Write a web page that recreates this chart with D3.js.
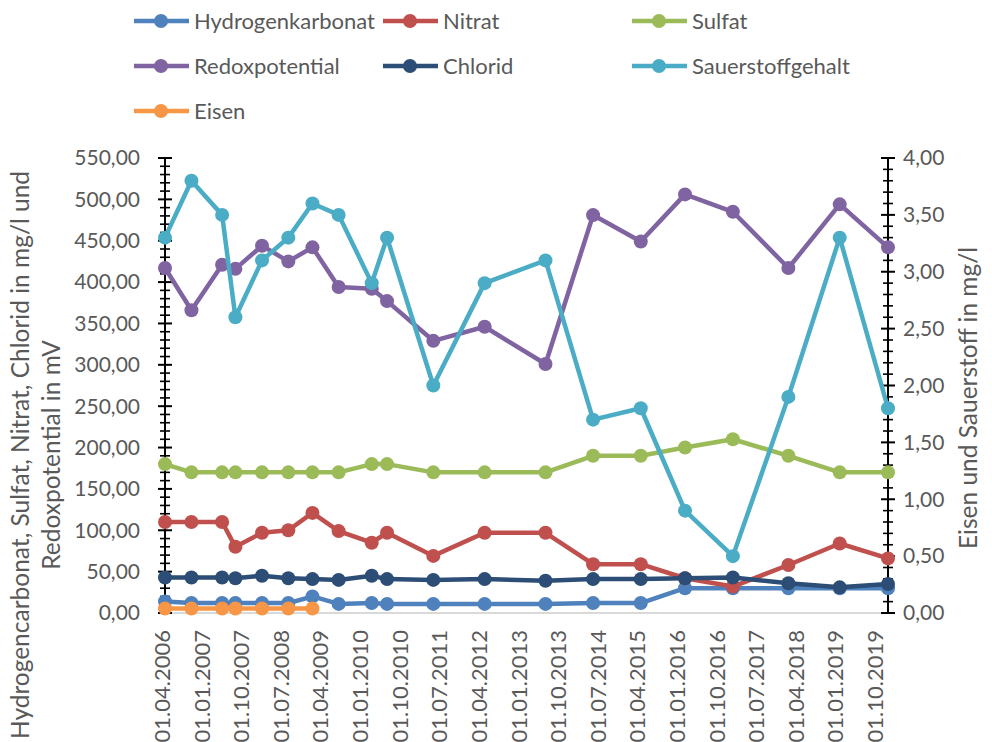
<!DOCTYPE html>
<html><head><meta charset="utf-8">
<script src="https://cdn.jsdelivr.net/npm/d3@7"></script>
<style>body{margin:0;background:#fff}svg{display:block}text{font-family:Lato,"Open Sans",sans-serif;fill:#595959}</style>
</head><body>
<svg id="c" width="992" height="742"></svg>
<script>
const dates = ["2006-04-01","2006-10-01","2007-05-01","2007-08-01","2008-02-01","2008-08-01","2009-01-15","2009-07-15","2010-03-01","2010-06-15","2011-05-01","2012-04-20","2013-06-15","2014-05-10","2015-04-05","2016-02-05","2017-01-01","2018-01-20","2019-01-10","2019-12-10"];
const hydrogenkarbonat = [14,12,12,12,12,12,20,11,12,11,11,11,11,12,12,30,30,30,30,30];
const nitrat = [110,110,110,80,97,100,121,99,85,97,69,97,97,59,59,42,32,58,84,66];
const sulfat = [180,170,170,170,170,170,170,170,180,180,170,170,170,190,190,200,210,190,170,170];
const redoxpotential = [417,366,421,416,444,425,442,394,392,377,329,346,301,481,449,506,485,417,494,442];
const chlorid = [43,43,43,42,45,42,41,40,45,41,40,41,39,41,41,42,43,36,31,35];
const sauerstoffgehalt = [3.3,3.8,3.5,2.6,3.1,3.3,3.6,3.5,2.9,3.3,2.0,2.9,3.1,1.7,1.8,0.9,0.5,1.9,3.3,1.8];
const eisen = [0.04,0.04,0.04,0.04,0.04,0.04,0.04,null,null,null,null,null,null,null,null,null,null,null,null,null];
const xTickLabels = ["01.04.2006","01.01.2007","01.10.2007","01.07.2008","01.04.2009","01.01.2010","01.10.2010","01.07.2011","01.04.2012","01.01.2013","01.10.2013","01.07.2014","01.04.2015","01.01.2016","01.10.2016","01.07.2017","01.04.2018","01.01.2019","01.10.2019"];
const leftTicks = [0,50,100,150,200,250,300,350,400,450,500,550];
const rightTicks = [0,0.5,1,1.5,2,2.5,3,3.5,4];

const series = [
  {name:"Hydrogenkarbonat", values:hydrogenkarbonat, color:"#4F81BD", axis:"L"},
  {name:"Nitrat", values:nitrat, color:"#C0504D", axis:"L"},
  {name:"Sulfat", values:sulfat, color:"#9BBB59", axis:"L"},
  {name:"Redoxpotential", values:redoxpotential, color:"#8064A2", axis:"L"},
  {name:"Chlorid", values:chlorid, color:"#2C4D75", axis:"L"},
  {name:"Sauerstoffgehalt", values:sauerstoffgehalt, color:"#4BACC6", axis:"R"},
  {name:"Eisen", values:eisen, color:"#F79646", axis:"R"}
];

const parse = d3.timeParse("%Y-%m-%d");
const parseTick = d3.timeParse("%d.%m.%Y");
const de = d3.formatLocale({decimal:",",thousands:".",grouping:[3],currency:["","€"]});
const fmt2 = de.format(".2f");

const L=165, R=888, T=158, B=613;
const svg = d3.select("#c");
const xd = dates.map(parse);
const x = d3.scaleTime().domain([xd[0], xd[xd.length-1]]).range([L,R]);
const yL = d3.scaleLinear().domain([0,550]).range([B,T]);
const yR = d3.scaleLinear().domain([0,4]).range([B,T]);

// bottom axis line
svg.append("line").attr("x1",L).attr("x2",R).attr("y1",B).attr("y2",B).attr("stroke","#D9D9D9").attr("stroke-width",2);

// left axis
const gL = svg.append("g");
gL.append("line").attr("x1",L).attr("x2",L).attr("y1",T).attr("y2",B).attr("stroke","#000").attr("stroke-width",2);
d3.range(0,551,10).forEach(v=>{
  const major = v%50===0;
  const w = major?7:5;
  gL.append("line").attr("x1",L-w).attr("x2",L+w).attr("y1",yL(v)).attr("y2",yL(v)).attr("stroke","#000").attr("stroke-width",major?2:1.6);
});
gL.selectAll("text.t").data(leftTicks).join("text").attr("class","t")
  .attr("x",140).attr("y",d=>yL(d)).attr("dy","0.35em").attr("text-anchor","end")
  .style("font-size","21px").text(d=>fmt2(d));

// right axis
const gR = svg.append("g");
gR.append("line").attr("x1",R).attr("x2",R).attr("y1",T).attr("y2",B).attr("stroke","#000").attr("stroke-width",2);
d3.range(0,41,1).forEach(i=>{
  const v=i/10, major = i%5===0;
  const w = major?7:5;
  gR.append("line").attr("x1",R-w).attr("x2",R+w).attr("y1",yR(v)).attr("y2",yR(v)).attr("stroke","#000").attr("stroke-width",major?2:1.6);
});
gR.selectAll("text.t").data(rightTicks).join("text").attr("class","t")
  .attr("x",903).attr("y",d=>yR(d)).attr("dy","0.35em").attr("text-anchor","start")
  .style("font-size","21px").text(d=>fmt2(d));

// x tick labels
svg.append("g").selectAll("text").data(xTickLabels).join("text")
  .attr("transform",d=>`translate(${x(parseTick(d))+5},630) rotate(-90)`)
  .attr("text-anchor","end").style("font-size","22px").text(d=>d);

// lines
const lineGen = (sc)=>d3.line().defined(d=>d.v!=null).x(d=>x(d.d)).y(d=>sc(d.v));
series.forEach(s=>{
  const sc = s.axis==="L"?yL:yR;
  const pts = s.values.map((v,i)=>({d:xd[i],v}));
  const g = svg.append("g");
  g.append("path").datum(pts).attr("d",lineGen(sc)).attr("fill","none").attr("stroke",s.color).attr("stroke-width",4.5).attr("stroke-linejoin","round");
  g.selectAll("circle").data(pts.filter(p=>p.v!=null)).join("circle")
    .attr("cx",p=>x(p.d)).attr("cy",p=>sc(p.v)).attr("r",7).attr("fill",s.color);
});

// axis titles
svg.append("text").attr("transform","translate(20,455) rotate(-90)").attr("dy","0.35em").attr("text-anchor","middle")
  .style("font-size","24.5px").text("Hydrogencarbonat, Sulfat, Nitrat, Chlorid in mg/l und");
svg.append("text").attr("transform","translate(51,455) rotate(-90)").attr("dy","0.35em").attr("text-anchor","middle")
  .style("font-size","24.5px").text("Redoxpotential in mV");
svg.append("text").attr("transform","translate(968,398) rotate(-90)").attr("dy","0.35em").attr("text-anchor","middle")
  .style("font-size","24.5px").text("Eisen und Sauerstoff in mg/l");

// legend
const colX = [134,383,632], rowY = [21,66,111];
series.forEach((s,i)=>{
  const cx = colX[i%3], cy = rowY[Math.floor(i/3)];
  const g = svg.append("g");
  g.append("line").attr("x1",cx).attr("x2",cx+55).attr("y1",cy).attr("y2",cy).attr("stroke",s.color).attr("stroke-width",4.5);
  g.append("circle").attr("cx",cx+27).attr("cy",cy).attr("r",7).attr("fill",s.color);
  g.append("text").attr("x",cx+60).attr("y",cy).attr("dy","0.35em").style("font-size","22px").text(s.name);
});
</script>
</body></html>
